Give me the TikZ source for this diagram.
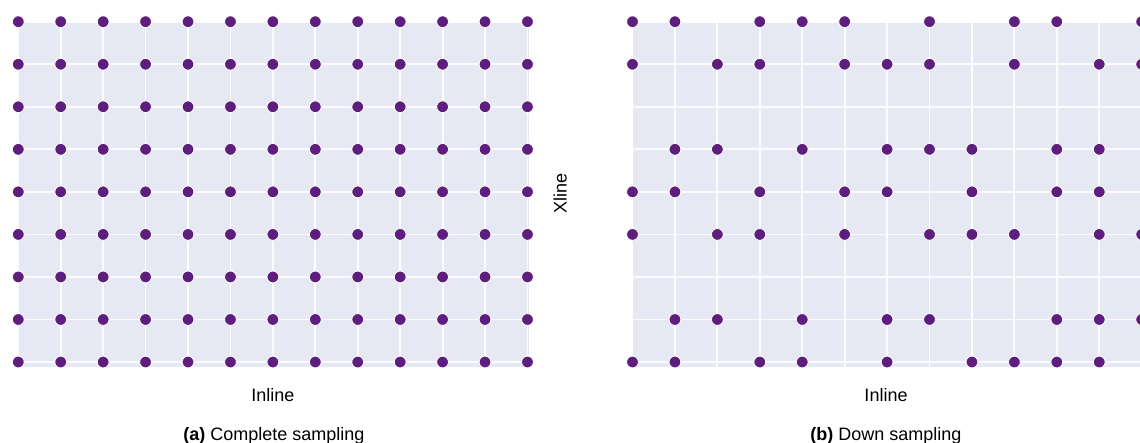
\documentclass[tikz,border=0pt]{standalone}
\usepackage{fontspec}
\setmainfont{Liberation Sans}
\definecolor{bgl}{HTML}{E6E8F4}
\definecolor{dotc}{HTML}{5E1E7E}
\begin{document}
\begin{tikzpicture}[x=1pt,y=-1pt,
  gridline/.style={white,line width=1.8pt,opacity=0.9},
  sample/.style={fill=dotc,draw=white,line width=0.8pt},
  lbl/.style={font=\fontsize{18}{21}\selectfont,inner sep=0pt}]
\useasboundingbox (0,0) rectangle (1140,442);
\clip (0,0) rectangle (1140,442);
% ---- left panel: complete sampling ----
\fill[bgl] (17,21.5) rectangle (528.5,367);
\foreach \i in {0,...,12} {\draw[gridline] ({18.3+42.43*\i},21.5) -- ({18.3+42.43*\i},367);}
\foreach \j in {0,...,8} {\draw[gridline] (17,{21.7+42.54*\j}) -- (528.5,{21.7+42.54*\j});}
\foreach \i in {0,...,12} {
  \foreach \j in {0,...,8} {
    \filldraw[sample] ({18.3+42.43*\i},{21.7+42.54*\j}) circle[radius=5.9pt];
  }
}
% ---- right panel: down sampling ----
\fill[bgl] (632.5,21.5) rectangle (1145,367);
\foreach \i in {0,...,12} {\draw[gridline] ({632.5+42.43*\i},21.5) -- ({632.5+42.43*\i},367);}
\foreach \j in {0,...,8} {\draw[gridline] (632.5,{21.7+42.54*\j}) -- (1145,{21.7+42.54*\j});}
\foreach \j/\cols in {0/{0,1,3,4,5,7,9,10,12},
                      1/{0,2,3,5,6,7,9,11,12},
                      3/{1,2,4,6,7,8,10,11},
                      4/{0,1,3,5,6,8,10,11},
                      5/{0,2,3,5,7,8,9,11,12},
                      7/{1,2,4,6,7,10,11,12},
                      8/{0,1,3,4,6,8,9,10,11}} {
  \foreach \i in \cols {
    \filldraw[sample] ({632.5+42.43*\i},{21.7+42.54*\j}) circle[radius=5.9pt];
  }
}
% ---- labels ----
\node[lbl,anchor=base] (inlineA) at (273,401.5) {Inline};
\node[lbl,anchor=base] (inlineB) at (886,401.5) {Inline};
\node[lbl,anchor=base,rotate=90] (xline) at (566.5,193) {Xline};
\node[lbl,anchor=base] (capA) at (274,440) {\textbf{(a)} Complete sampling};
\node[lbl,anchor=base] (capB) at (886,440) {\textbf{(b)} Down sampling};
\end{tikzpicture}
\end{document}
